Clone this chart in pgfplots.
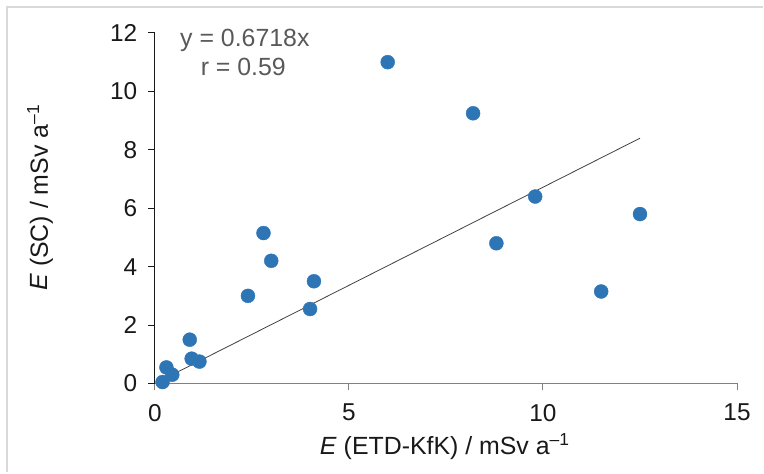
\documentclass[border=0pt]{standalone}
\usepackage{pgfplots}
\pgfplotsset{compat=1.18}
\usepackage{fontspec}
\setmainfont{Liberation Sans}
\definecolor{dotblue}{RGB}{46,117,182}
\definecolor{anno}{RGB}{89,89,89}
\begin{document}
\begin{tikzpicture}
\path (0,0) rectangle (764bp,473bp);
\draw[black!15, line width=2bp] (7bp,0) -- (7bp,465.5bp) -- (764bp,465.5bp);
\begin{axis}[
  at={(155bp,89bp)}, anchor=south west,
  scale only axis, width=583bp, height=351bp,
  xmin=0, xmax=15, ymin=0, ymax=12,
  xtick={0,5,10,15}, ytick={0,2,4,6,8,10,12},
  axis x line=bottom, axis y line=left,
  x axis line style={-, black!50, line width=1.2bp},
  y axis line style={-, black!90, line width=1bp},
  tick align=outside, major tick length=7bp,
  xtick style={black!50, line width=1bp},
  ytick style={black!90, line width=1bp},
  clip=false,
  /pgf/number format/assume math mode=true,
  tick label style={font=\fontsize{24.5}{28}\selectfont, text=black!90},
  xticklabel style={yshift=-10bp},
  yticklabel style={xshift=-7bp},
  label style={font=\fontsize{25}{29}\selectfont, text=black!90},
  xlabel={\textit{E} (ETD-KfK) / mSv a\textsuperscript{–1}},
  ylabel={\textit{E} (SC) / mSv a\textsuperscript{–1}},
  xlabel style={at={(axis description cs:0.498,0)}, anchor=center, yshift=-63bp},
  ylabel style={at={(axis description cs:-0.197,0.53)}, anchor=center, rotate=0},
]
\addplot[black!75, line width=0.8bp] coordinates {(0.2,0.1344) (12.5,8.3975)};
\addplot[only marks, mark=*, mark size=7bp, color=dotblue, mark options={draw=dotblue, fill=dotblue}] coordinates {
(0.2,0.05) (0.3,0.55) (0.45,0.3) (0.9,1.5) (0.95,0.85) (1.15,0.75)
(2.4,3.0) (2.8,5.15) (3.0,4.2) (4.0,2.55) (4.1,3.5) (6.0,11.0)
(8.2,9.25) (8.8,4.8) (9.8,6.4) (11.5,3.15) (12.5,5.8)
};
\node[text=anno, font=\fontsize{25}{29}\selectfont] at (axis cs:2.32,11.76) {y = 0.6718x};
\node[text=anno, font=\fontsize{25}{29}\selectfont] at (axis cs:2.28,10.84) {r = 0.59};
\end{axis}
\end{tikzpicture}
\end{document}
